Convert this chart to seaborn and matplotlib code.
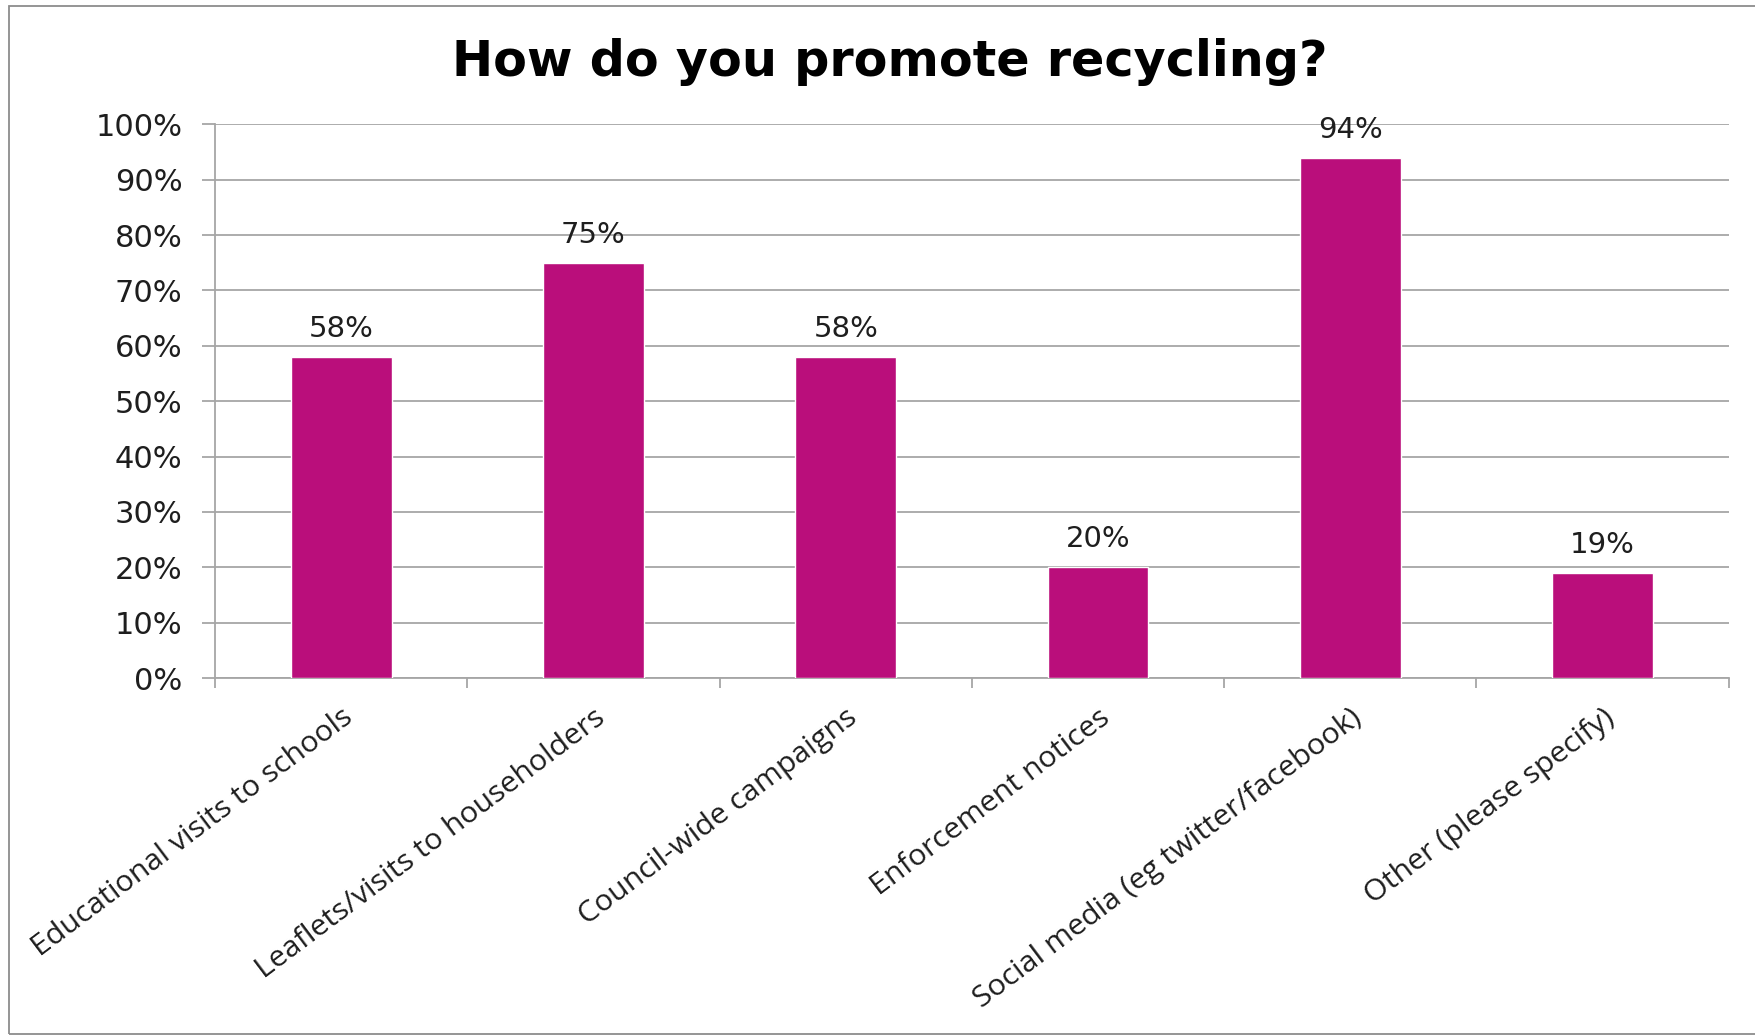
import matplotlib
matplotlib.use("Agg")
import matplotlib.pyplot as plt
from matplotlib.patches import Rectangle
from matplotlib.ticker import PercentFormatter
import pandas as pd
import seaborn as sns

# Survey results: share of respondents using each promotion method
methods = [
    "Educational visits to schools",
    "Leaflets/visits to householders",
    "Council-wide campaigns",
    "Enforcement notices",
    "Social media (eg twitter/facebook)",
    "Other (please specify)",
]
shares = [0.58, 0.75, 0.58, 0.20, 0.94, 0.19]
title = "How do you promote recycling?"

BAR = "#BA0E7B"
GRID = "#A6A6A6"
TEXT = "#1E1E1E"

sns.set_theme(style="white")
plt.rcParams["font.family"] = ["DejaVu Sans"]

df = pd.DataFrame({"method": methods, "share": shares})

fig = plt.figure(figsize=(17.55, 10.36), dpi=100)
ax = fig.add_axes([0.1225, 0.3455, 0.8625, 0.5345])

sns.barplot(data=df, x="method", y="share", order=methods, color=BAR,
            saturation=1, width=0.4, ax=ax, zorder=3)

ax.set_ylim(0, 1.0)
ax.set_xlim(-0.5, len(methods) - 0.5)
ax.set_yticks([i / 10 for i in range(11)])
ax.yaxis.set_major_formatter(PercentFormatter(1.0, decimals=0))
ax.grid(axis="y", color=GRID, linewidth=1.3, zorder=0)
ax.set_axisbelow(True)

for side in ("top", "right"):
    ax.spines[side].set_visible(False)
for side in ("left", "bottom"):
    ax.spines[side].set_color(GRID)
    ax.spines[side].set_linewidth(1.3)

ax.set_xlabel("")
ax.set_ylabel("")

# y ticks: outward marks with percentage labels
ax.tick_params(axis="y", which="major", direction="out", length=9.5,
               width=1.3, color=GRID, labelsize=22, labelcolor=TEXT, pad=14,
               left=True)

# x axis: category labels centred, tick marks on category boundaries
ax.set_xticks(range(len(methods)))
ax.set_xticklabels(methods, rotation=37, ha="right", va="top",
                   rotation_mode="anchor", family="Open Sans",
                   fontsize=21.8, color=TEXT)
ax.tick_params(axis="x", which="major", length=0, pad=18)
ax.set_xticks([i - 0.5 for i in range(len(methods) + 1)], minor=True)
ax.tick_params(axis="x", which="minor", direction="out", length=7.5,
               width=1.3, color=GRID, bottom=True)
for lbl in ax.get_xticklabels():
    lbl.set_x(lbl.get_position()[0] + 0.03)

# value labels above bars
for container in ax.containers:
    ax.bar_label(container, labels=[f"{v:.0%}" for v in shares],
                 padding=10, fontsize=21, color=TEXT)

fig.suptitle(title, x=0.507, y=0.94, fontsize=35.5, fontweight="heavy",
             color="black", va="center")

# chart-area frame
fig.add_artist(Rectangle((0.0051, 0.0015), 1.2, 0.9927,
                         transform=fig.transFigure, fill=False,
                         edgecolor="#8C8C8C", linewidth=1.3))

fig.savefig("out.png", dpi=100, facecolor="white")
